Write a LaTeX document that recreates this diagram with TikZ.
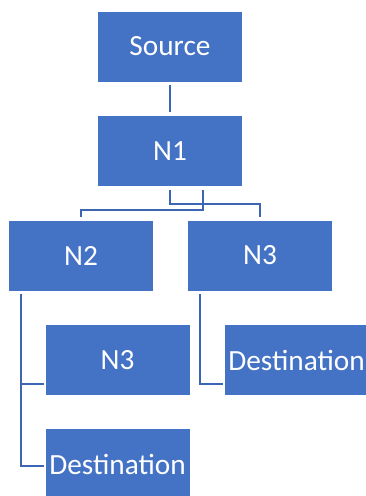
\documentclass[tikz,border=0pt]{standalone}
\usepackage{fontspec}
\setmainfont{Carlito}
\definecolor{boxblue}{HTML}{4472C4}
\definecolor{lineblue}{HTML}{3C66B4}
\tikzset{
    block/.style={draw=white, line width=0.8pt, fill=boxblue, text=white,
        minimum width=145pt, minimum height=71pt, inner sep=0pt,
        font=\fontsize{29.3}{33}\selectfont},
    link/.style={lineblue, line width=1.6pt, shorten <=3pt, shorten >=3pt}
}
\begin{document}
\begin{tikzpicture}[x=1pt, y=-1pt]

    \useasboundingbox (0,0) rectangle (366,496);

    \node[block] (source) at (170,46.5){Source};
    \node[block] (n1) at (170,151){N1};
    \node[block] (n2) at (81,255.5){N2};
    \node[block] (n3) at (260,255.5){N3};
    \node[block] (n3b) at (117.5,360){N3};
    \node[block] (destl) at (117.5,464){Destination};
    \node[block] (destr) at (296.5,360){Destination};

    \draw[link] (source) -- (n1);
    \draw[link] (n1.south) -- ++(0,17) -| (n3.north);
    \draw[link] ([xshift=33pt]n1.south) -- ++(0,23) -| (n2.north);
    \draw[link, shorten >=1pt] ([xshift=13pt]n2.south west) |- ([yshift=-24pt]n3b.west);
    \draw[link, shorten >=1pt] ([xshift=13pt]n2.south west) |- ([yshift=-2pt]destl.west);
    \draw[link, shorten >=1pt] ([xshift=13pt]n3.south west) |- ([yshift=-24pt]destr.west);

\end{tikzpicture}
\end{document}
